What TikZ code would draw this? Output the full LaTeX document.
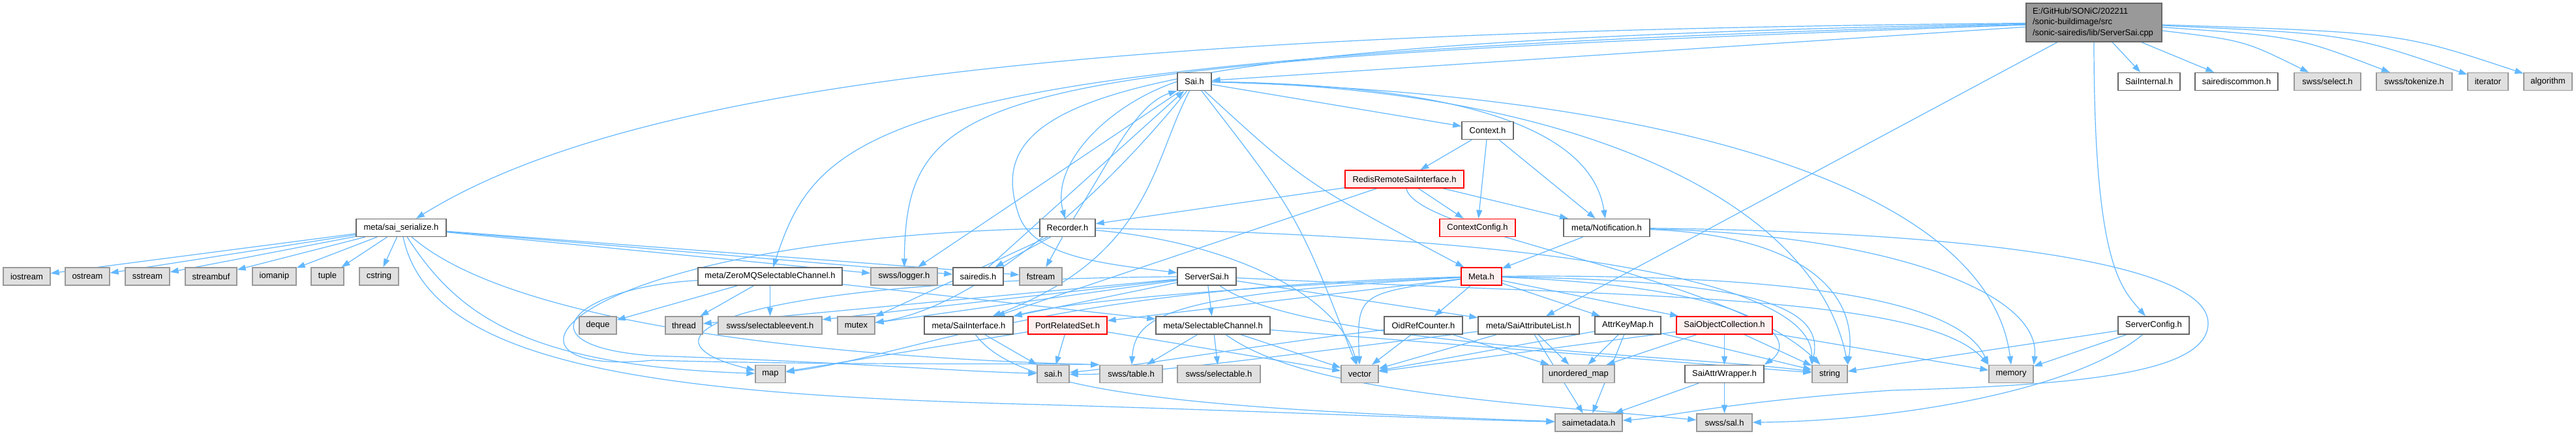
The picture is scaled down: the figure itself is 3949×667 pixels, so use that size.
\documentclass[tikz,border=0pt]{standalone}
\usepackage{fontspec}
\setmainfont{Liberation Sans}
\usetikzlibrary{arrows.meta}
\definecolor{edgeblue}{HTML}{63B8FF}
\definecolor{boxline}{HTML}{666666}
\definecolor{sysline}{HTML}{999999}
\definecolor{sysfill}{HTML}{E0E0E0}
\definecolor{cutline}{HTML}{FF0000}
\definecolor{cutfill}{HTML}{FFF0F0}
\definecolor{mainfill}{HTML}{999999}
\pgfdeclarelayer{edges}
\pgfsetlayers{edges,main}
\tikzset{
  filebox/.style={draw=boxline,fill=white,line width=1.4pt,
                  minimum height=27pt,inner sep=0pt,
                  font=\fontsize{13}{16}\selectfont},
  sysbox/.style={filebox,draw=sysline,fill=sysfill},
  cutbox/.style={filebox,draw=cutline,fill=cutfill},
  mainbox/.style={filebox,fill=mainfill,minimum height=59pt,
                  text width=188pt,align=left,inner xsep=10pt,
                  font=\fontsize{13}{16.5}\selectfont},
  dep/.style={draw=edgeblue,line width=1.2pt,
              -{Triangle[length=13pt,width=9pt]}}
}

\begin{document}
\begin{tikzpicture}[x=1pt,y=-1pt]
  \useasboundingbox (0,0) rectangle (3949,667);
  % the file itself
  \node[mainbox] (main) at (3210,34.5)
    {E:/GitHub/SONiC/202211\\/sonic-buildimage/src\\/sonic-sairedis/lib/ServerSai.cpp};
  % rank 1
  \node[filebox,minimum width=52pt]  (saih)     at (1831,125)   {Sai.h};
  \node[filebox,minimum width=95pt]  (saiint)   at (3294.5,125) {SaiInternal.h};
  \node[filebox,minimum width=127pt] (srcommon) at (3428.5,125) {sairediscommon.h};
  \node[sysbox,minimum width=102pt]  (select)   at (3568,125)   {swss/select.h};
  \node[sysbox,minimum width=116pt]  (tokenize) at (3701,125)   {swss/tokenize.h};
  \foreach \name/\x/\w in {iterator/3814/62,algorithm/3906/74}
    \node[sysbox,minimum width=\w pt] (\name) at (\x,125) {\name};
  % ranks 2 and 3
  \node[filebox,minimum width=79pt]  (context)  at (2280.5,200) {Context.h};
  \node[cutbox,minimum width=182pt]  (rrsi)     at (2153,274.5) {RedisRemoteSaiInterface.h};
  % rank 4
  \node[filebox,minimum width=138pt] (serialize) at (615,349)   {meta/sai\_serialize.h};
  \node[filebox,minimum width=85pt]  (recorder)  at (1636.5,349) {Recorder.h};
  \node[cutbox,minimum width=116pt]  (ctxconfig) at (2265,349)  {ContextConfig.h};
  \node[filebox,minimum width=132pt] (notif)     at (2463,349)  {meta/Notification.h};
  % rank 5
  \foreach \name/\x/\w in {iostream/41/72,ostream/134/68,sstream/226/68,
      streambuf/323.5/79,iomanip/420.5/67,tuple/502/50,cstring/581/60}
    \node[sysbox,minimum width=\w pt] (\name) at (\x,423.5) {\name};
  \node[filebox,minimum width=221pt] (zmq)       at (1180.5,423.5) {meta/ZeroMQSelectableChannel.h};
  \node[sysbox,minimum width=102pt]  (logger)    at (1386,423.5)   {swss/logger.h};
  \node[filebox,minimum width=77pt]  (sairedis)  at (1499.5,423.5) {sairedis.h};
  \node[sysbox,minimum width=65pt]   (fstream)   at (1595.5,423.5) {fstream};
  \node[filebox,minimum width=90pt]  (serversai) at (1850,423.5)   {ServerSai.h};
  \node[cutbox,minimum width=62pt]   (meta)      at (2271,423.5)   {Meta.h};
  % rank 6
  \foreach \name/\x/\w in {deque/916.5/57,thread/1048.5/57,mutex/1312.5/57}
    \node[sysbox,minimum width=\w pt] (\name) at (\x,498.5) {\name};
  \node[sysbox,minimum width=159pt]  (selevent)  at (1180.5,498.5) {swss/selectableevent.h};
  \node[filebox,minimum width=136pt] (saiif)     at (1485,498.5)   {meta/SaiInterface.h};
  \node[cutbox,minimum width=121pt]  (portset)   at (1636.5,498.5) {PortRelatedSet.h};
  \node[filebox,minimum width=175pt] (selchan)   at (1859.5,498.5) {meta/SelectableChannel.h};
  \node[filebox,minimum width=120pt] (oidref)    at (2182,498.5)   {OidRefCounter.h};
  \node[filebox,minimum width=155pt] (attrlist)  at (2343.5,498.5) {meta/SaiAttributeList.h};
  \node[filebox,minimum width=101pt] (attrmap)   at (2495.5,498.5) {AttrKeyMap.h};
  \node[cutbox,minimum width=147pt]  (objcoll)   at (2643.5,498.5) {SaiObjectCollection.h};
  \node[filebox,minimum width=109pt] (srvconfig) at (3301.5,498.5) {ServerConfig.h};
  % rank 7
  \foreach \name/\x/\w in {map/1181/46,vector/2084.5/57,string/2805/54,memory/3083/68}
    \node[sysbox,minimum width=\w pt] (\name) at (\x,573) {\name};
  \node[sysbox,minimum width=49pt]   (saisys)     at (1614.5,573) {sai.h};
  \node[sysbox,minimum width=96pt]   (table)      at (1734,573)   {swss/table.h};
  \node[sysbox,minimum width=127pt]  (selectable) at (1868.5,573) {swss/selectable.h};
  \node[sysbox,minimum width=110pt]  (umap)       at (2420,573)   {unordered\_map};
  \node[filebox,minimum width=121pt] (wrapper)    at (2643.5,573) {SaiAttrWrapper.h};
  % rank 8
  \node[sysbox,minimum width=103pt]  (saimeta)    at (2435.5,647.5) {saimetadata.h};
  \node[sysbox,minimum width=85pt]   (sal)        at (2643.5,647.5) {swss/sal.h};

  \begin{pgfonlayer}{edges}
    \fill[white] (0,0) rectangle (3949,667);
    % straight includes
    \foreach \src/\dst in {main/saiint,main/srcommon,main/saih,main/attrlist,
        saih/context,saih/logger,context/rrsi,context/ctxconfig,context/notif,
        rrsi/recorder,rrsi/saiif,rrsi/ctxconfig,rrsi/notif,
        recorder/sairedis,recorder/fstream,recorder/mutex,sairedis/saih,notif/meta,
        serialize/iostream,serialize/ostream,serialize/sstream,serialize/streambuf,
        serialize/iomanip,serialize/tuple,serialize/cstring,
        serialize/logger,serialize/sairedis,serialize/fstream,
        zmq/deque,zmq/thread,zmq/selevent,zmq/selchan,
        serversai/selchan,serversai/saiif,serversai/selevent,serversai/thread,
        serversai/mutex,serversai/attrlist,
        meta/oidref,meta/attrmap,meta/objcoll,meta/portset,
        oidref/vector,oidref/umap,attrlist/umap,attrlist/vector,attrlist/saimeta,
        attrmap/umap,attrmap/saimeta,attrmap/vector,attrmap/string,
        objcoll/wrapper,objcoll/string,objcoll/memory,objcoll/umap,objcoll/vector,
        wrapper/sal,wrapper/saimeta,saiif/saisys,
        portset/saisys,portset/map,portset/vector,
        selchan/table,selchan/selectable,selchan/vector,selchan/string,
        srvconfig/string,srvconfig/memory}
      \draw[dep] (\src) -- (\dst);
    % routed includes from the file
    \foreach \dst/\cx/\cy in {select/3440/62,tokenize/3520/56,
        iterator/3600/52,algorithm/3680/50}
      \draw[dep] (main) .. controls (\cx,\cy) .. (\dst);
    \draw[dep] (main) .. controls (1800,48) and (1000,110) .. (serialize);
    \draw[dep] (main) .. controls (1700,62) and (1500,150) .. (1562,330)
                      .. controls (1585,395) and (1700,405) .. (serversai);
    \draw[dep] (main) .. controls (1500,95) and (1390,130) .. (logger);
    \draw[dep] (main) .. controls (1350,85) and (1258,190) .. (zmq);
    \draw[dep] (main) .. controls (3210,400) and (3250,440) .. (srvconfig);
    % Sai.h
    \draw[dep] (saih.west) .. controls (1700,160) and (1610,250) .. (recorder);
    \draw[dep] (recorder) .. controls (1700,250) and (1740,160) .. (saih.south west);
    \draw[dep] (saih) .. controls (2250,130) and (2440,200) .. (notif);
    \draw[dep] (saih) .. controls (2000,280) .. (meta);
    \draw[dep] (saih) .. controls (1765,250) and (1765,390) .. (saiif);
    \draw[dep] (saih) .. controls (1690,300) and (1500,470) .. (mutex);
    \draw[dep] (saih) .. controls (2400,135) and (2780,300) .. (string.north east);
    \draw[dep] (saih) .. controls (2600,145) and (3050,300) .. (memory.north);
    \draw[dep] (saih) .. controls (1990,330) .. (vector);
    % Recorder.h
    \draw[dep] (recorder) .. controls (2300,360) and (2780,420) .. (string.north west);
    \draw[dep] (recorder) .. controls (1880,370) and (2050,450) .. (vector);
    \draw[dep] (recorder) .. controls (850,370) and (720,580) .. (1000,552)
                          .. controls (1300,560) and (1550,556) .. (table.north west);
    % meta/sai_serialize.h and meta/ZeroMQSelectableChannel.h
    \draw[dep] (serialize) .. controls (700,480) and (800,560) .. (map);
    \draw[dep] (serialize) .. controls (800,510) and (1350,550) .. (table.north west);
    \draw[dep] (serialize) .. controls (660,560) and (1000,605) .. (1600,620)
                           .. controls (2000,632) and (2200,642) .. (saimeta);
    \draw[dep] (zmq) .. controls (880,440) and (790,530) .. (1000,545)
                     .. controls (1300,555) and (1450,568) .. (saisys);
    % ServerSai.h
    \draw[dep] (serversai) .. controls (1100,430) and (960,520) .. (map);
    \draw[dep] (serversai) .. controls (2000,530) and (2600,545) .. (string);
    \draw[dep] (serversai) .. controls (2500,455) and (2950,450) .. (memory.north west);
    % Meta.h
    \draw[dep] (meta) .. controls (1900,440) and (1650,460) .. (saiif.north east);
    \draw[dep] (meta) .. controls (2080,450) .. (vector);
    \draw[dep] (meta) .. controls (2650,430) and (2800,460) .. (string.north west);
    \draw[dep] (meta) .. controls (2700,420) and (3000,450) .. (memory.north west);
    \draw[dep] (meta) .. controls (1800,450) and (1740,480) .. (table);
    \draw[dep] (meta) .. controls (1600,440) and (1400,545) .. (map);
    \draw[dep] (meta) .. controls (2700,440) and (2760,520) .. (wrapper.north east);
    % lower rows
    \draw[dep] (rrsi) .. controls (2170,360) and (2650,420) .. (string);
    \draw[dep] (oidref) .. controls (1950,525) and (1750,560) .. (saisys);
    \draw[dep] (attrlist) .. controls (2000,540) and (1750,575) .. (saisys);
    \draw[dep] (saiif) .. controls (1560,600) and (1800,625) .. (saimeta);
    \draw[dep] (selchan) .. controls (2000,600) and (2300,615) .. (sal);
    \draw[dep] (notif) .. controls (3000,355) and (3385,400) .. (3385,495)
                       .. controls (3385,570) and (3200,590) .. (2900,598)
                       .. controls (2650,615) and (2550,640) .. (saimeta);
    \draw[dep] (notif) .. controls (2750,360) and (2850,440) .. (string.north east);
    \draw[dep] (notif) .. controls (2900,360) and (3130,450) .. (memory.north east);
    \draw[dep] (srvconfig) .. controls (3180,600) and (2900,645) .. (sal);
  \end{pgfonlayer}
\end{tikzpicture}
\end{document}
